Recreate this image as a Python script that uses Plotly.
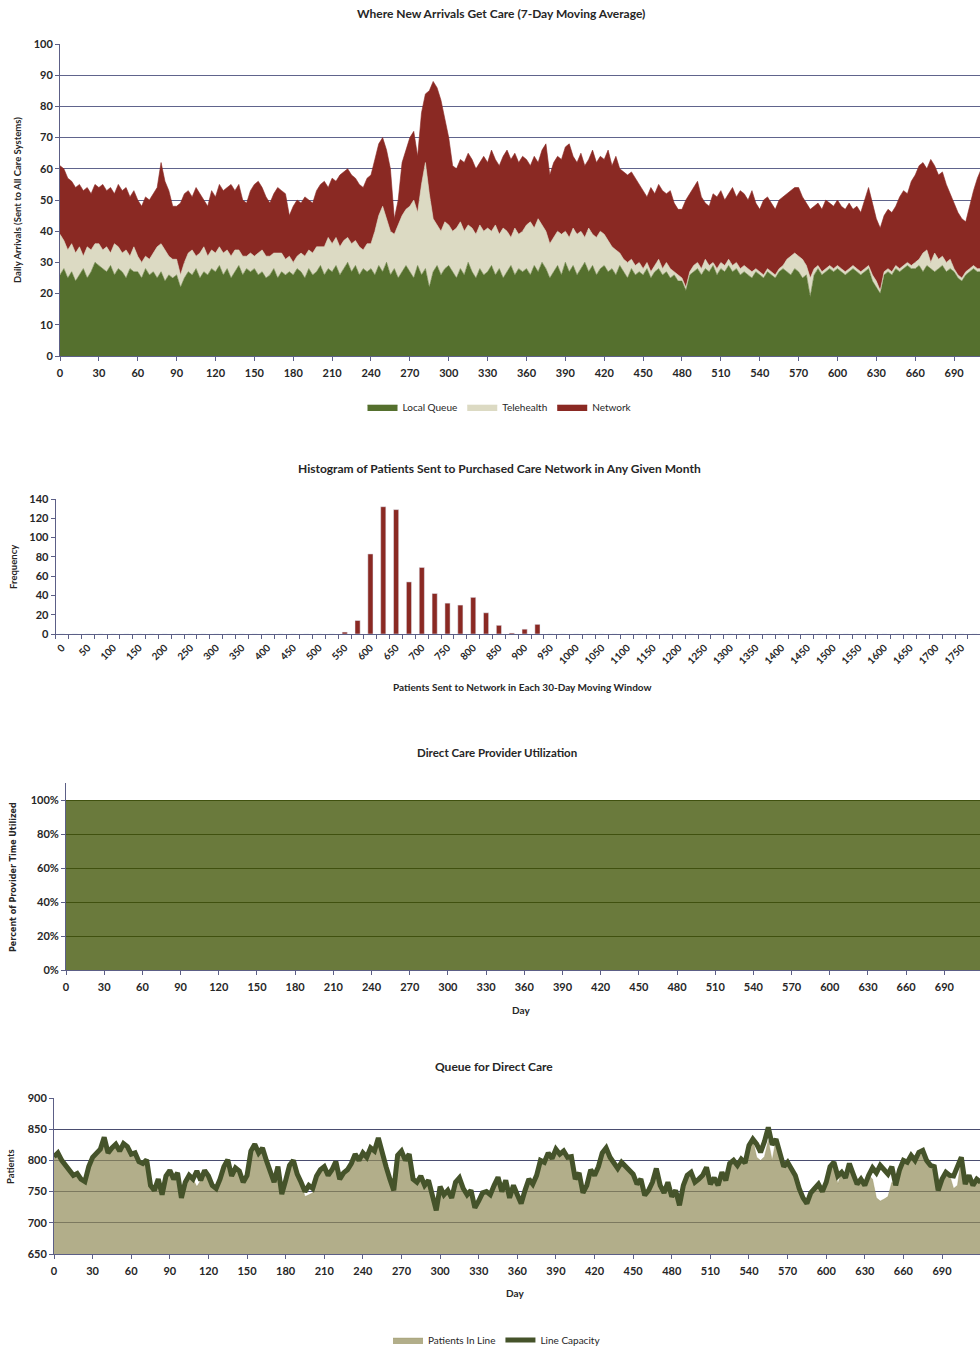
import plotly.graph_objects as go

# ---------------- Where New Arrivals Get Care (7-day moving average, every 3rd day) ----------------
ARRIVAL_DAYS = list(range(0, 712, 3))

LOCAL_QUEUE = [
    26, 28, 25, 27, 24, 26, 28, 25, 27, 30,
    29, 28, 27, 29, 26, 28, 27, 25, 28, 27,
    27, 25, 28, 26, 27, 25, 27, 24, 26, 25,
    26, 22, 25, 27, 26, 28, 25, 27, 26, 28,
    27, 29, 26, 28, 25, 27, 29, 26, 28, 27,
    28, 26, 27, 25, 26, 28, 25, 27, 26, 27,
    26, 28, 27, 25, 28, 26, 27, 29, 26, 28,
    27, 29, 26, 28, 30, 27, 29, 26, 28, 27,
    28, 26, 29, 27, 30, 26, 28, 25, 27, 29,
    27, 25, 29, 26, 28, 22, 27, 29, 26, 28,
    29, 27, 25, 28, 26, 30, 27, 25, 28, 26,
    27, 29, 26, 28, 25, 27, 29, 26, 28, 27,
    28, 26, 29, 27, 30, 28, 25, 27, 29, 26,
    30, 27, 29, 26, 28, 30, 27, 29, 26, 28,
    29, 27, 28, 26, 29, 27, 25, 28, 26, 27,
    26, 28, 25, 27, 28, 26, 27, 25, 26, 24,
    24, 21, 26, 27, 28, 26, 28, 27, 29, 26,
    28, 27, 29, 27, 28, 26, 27, 26, 25, 27,
    26, 25, 27, 26, 25, 27, 28, 27, 26, 28,
    27, 25, 26, 19, 26, 28, 26, 27, 28, 27,
    28, 27, 26, 27, 28, 27, 26, 27, 28, 24,
    22, 20, 26, 27, 26, 28, 27, 28, 29, 28,
    28, 29, 27, 29, 28, 27, 28, 29, 27, 28,
    27, 25, 24, 26, 27, 28, 27, 27,
]

TELEHEALTH = [
    13, 9, 9, 9, 9, 9, 4, 10, 7, 6,
    7, 6, 8, 4, 10, 7, 6, 9, 4, 8,
    5, 5, 4, 5, 6, 10, 9, 10, 6, 6,
    5, 4, 5, 6, 8, 4, 8, 8, 6, 6,
    6, 6, 7, 6, 7, 7, 5, 6, 4, 6,
    4, 7, 7, 7, 6, 5, 8, 6, 5, 5,
    4, 4, 6, 7, 6, 7, 8, 6, 9, 10,
    9, 9, 9, 9, 8, 9, 8, 9, 6, 9,
    8, 14, 16, 21, 14, 14, 11, 17, 18, 18,
    21, 25, 17, 29, 34, 30, 17, 13, 14, 15,
    13, 13, 16, 15, 14, 12, 14, 14, 14, 14,
    14, 11, 16, 11, 16, 13, 9, 15, 11, 13,
    14, 17, 12, 17, 12, 12, 11, 11, 11, 13,
    10, 11, 12, 13, 12, 8, 14, 10, 12, 12,
    10, 10, 7, 8, 4, 4, 5, 3, 3, 3,
    2, 2, 2, 2, 3, 2, 3, 3, 1, 2,
    1, 1, 1, 2, 2, 2, 3, 2, 1, 2,
    2, 2, 2, 2, 2, 2, 2, 2, 2, 1,
    1, 1, 1, 1, 1, 1, 1, 4, 6, 5,
    5, 6, 3, 6, 2, 1, 1, 1, 1, 1,
    1, 1, 1, 1, 1, 1, 1, 1, 1, 2,
    2, 1, 1, 1, 1, 1, 1, 1, 1, 1,
    2, 2, 6, 5, 2, 6, 3, 3, 3, 3,
    1, 1, 1, 1, 1, 1, 1, 1,
]

NETWORK = [
    22, 23, 23, 20, 21, 20, 21, 19, 18, 19,
    18, 21, 18, 21, 16, 20, 20, 20, 19, 18,
    18, 18, 19, 19, 19, 19, 26, 22, 21, 17,
    17, 23, 22, 20, 17, 22, 19, 15, 16, 19,
    18, 20, 20, 20, 23, 19, 21, 18, 17, 20,
    23, 23, 20, 19, 17, 19, 21, 20, 21, 13,
    18, 18, 16, 19, 16, 16, 18, 20, 21, 16,
    21, 18, 23, 22, 22, 22, 20, 20, 20, 21,
    22, 23, 23, 22, 22, 20, 5, 8, 17, 19,
    22, 22, 18, 23, 22, 33, 44, 44, 42, 33,
    28, 21, 19, 20, 22, 23, 22, 21, 20, 24,
    21, 26, 21, 22, 23, 26, 25, 24, 23, 24,
    21, 18, 23, 18, 24, 28, 22, 24, 24, 24,
    27, 30, 23, 23, 25, 23, 22, 27, 24, 24,
    24, 29, 26, 30, 27, 28, 28, 28, 28, 25,
    25, 21, 27, 23, 24, 25, 22, 25, 22, 21,
    22, 28, 25, 25, 26, 23, 18, 19, 22, 23,
    23, 21, 21, 25, 21, 25, 23, 22, 26, 21,
    20, 24, 23, 22, 21, 22, 22, 21, 21, 21,
    22, 20, 20, 22, 20, 20, 20, 22, 20, 20,
    21, 20, 20, 21, 18, 20, 19, 22, 25, 23,
    20, 20, 18, 19, 19, 19, 23, 24, 22, 27,
    28, 30, 29, 26, 33, 28, 27, 27, 25, 21,
    21, 20, 19, 16, 20, 24, 29, 32,
]

# ---------------- Histogram of 30-day network totals ----------------
HIST_BINS = list(range(0, 1800, 25))
HIST_FREQ = [
    0, 0, 0, 0, 0, 0, 0, 0, 0, 0, 0, 0, 0, 0, 0, 0, 0, 0, 0, 0, 0, 0,
    2, 14, 83, 132, 129, 54, 69, 42, 32, 30, 38, 22, 9, 1, 5, 10,
    0, 0, 0, 0, 0, 0, 0, 0, 0, 0, 0, 0, 0, 0, 0, 0, 0, 0, 0, 0,
    0, 0, 0, 0, 0, 0, 0, 0, 0, 0, 0, 0, 0, 0,
]
HIST_TICKS = list(range(0, 1800, 50))

# ---------------- Direct care provider utilization ----------------
UTIL_DAYS = list(range(0, 721, 30))
UTILIZATION = [1.0, 1.0, 0.999, 1.0, 1.0, 0.998, 1.0, 1.0, 0.999, 1.0, 1.0, 1.0, 0.999,
               1.0, 1.0, 0.998, 1.0, 1.0, 0.999, 1.0, 1.0, 1.0, 0.999, 1.0, 1.0]

# ---------------- Queue for direct care (every 3rd day) ----------------
QUEUE_DAYS = list(range(0, 721, 3))

LINE_CAPACITY = [
    806, 812, 800, 793, 784, 776, 779, 770, 766, 790,
    805, 812, 818, 837, 812, 820, 826, 815, 827, 822,
    810, 812, 798, 795, 801, 760, 752, 770, 745, 775,
    784, 770, 780, 740, 765, 776, 770, 783, 768, 784,
    775, 760, 755, 770, 790, 801, 775, 788, 783, 765,
    776, 815, 826, 812, 820, 800, 780, 765, 790, 746,
    768, 792, 800, 778, 765, 750, 760, 755, 775, 785,
    790, 776, 785, 798, 770, 780, 785, 795, 810, 800,
    812, 805, 820, 815, 836, 810, 790, 770, 752, 808,
    815, 800, 810, 770, 765, 775, 760, 768, 740, 720,
    758, 745, 752, 740, 765, 772, 755, 745, 752, 724,
    735, 748, 750, 745, 760, 773, 750, 768, 740, 760,
    745, 731, 752, 770, 762, 776, 800, 797, 812, 803,
    818, 810, 815, 805, 806, 770, 780, 748, 760, 785,
    776, 790, 812, 820, 805, 795, 787, 797, 790, 785,
    778, 762, 770, 744, 752, 765, 787, 760, 748, 765,
    742, 752, 728, 760, 776, 781, 765, 770, 776, 789,
    762, 772, 760, 781, 768, 795, 800, 792, 802, 796,
    824, 834, 826, 813, 830, 853, 825, 834, 815, 790,
    797, 785, 776, 755, 740, 731, 748, 755, 762, 750,
    765, 790, 797, 775, 781, 772, 795, 778, 762, 770,
    760, 776, 788, 780, 792, 785, 778, 790, 760, 785,
    800, 797, 808, 800, 813, 816, 800, 792, 790, 752,
    770, 781, 776, 775, 790, 805, 762, 776, 760, 770, 765,
]

PATIENTS_IN_LINE = [
    806, 812, 800, 793, 784, 776, 779, 770, 766, 790,
    805, 812, 818, 837, 812, 820, 826, 815, 827, 822,
    810, 812, 798, 795, 801, 760, 752, 770, 745, 775,
    784, 770, 780, 740, 765, 776, 770, 758, 768, 784,
    775, 760, 755, 770, 790, 801, 775, 788, 783, 765,
    776, 815, 826, 812, 820, 800, 780, 765, 790, 746,
    768, 792, 800, 778, 765, 742, 745, 748, 775, 785,
    790, 776, 785, 798, 770, 780, 785, 795, 810, 800,
    812, 805, 820, 815, 836, 810, 790, 770, 752, 808,
    815, 800, 810, 770, 765, 775, 760, 768, 740, 720,
    758, 745, 752, 740, 765, 772, 755, 745, 752, 724,
    735, 748, 750, 745, 760, 773, 750, 768, 740, 760,
    745, 731, 752, 770, 762, 776, 800, 797, 812, 803,
    818, 810, 815, 805, 806, 770, 780, 748, 760, 785,
    776, 790, 812, 820, 805, 795, 787, 797, 790, 785,
    778, 762, 770, 744, 752, 765, 787, 760, 748, 765,
    742, 752, 728, 760, 776, 781, 765, 770, 776, 789,
    762, 772, 760, 781, 768, 795, 800, 792, 802, 796,
    824, 834, 805, 800, 806, 832, 800, 834, 815, 790,
    797, 785, 776, 755, 740, 731, 748, 755, 762, 750,
    765, 790, 797, 762, 781, 772, 795, 778, 762, 770,
    760, 776, 770, 740, 735, 738, 742, 765, 760, 785,
    800, 797, 808, 800, 813, 816, 800, 792, 790, 752,
    770, 781, 776, 755, 760, 805, 762, 776, 760, 770, 765,
]

# ---------------- styling ----------------
W, H = 980, 1350
FONT = "Lato"
TXT = "#262626"
AXIS = "#5c5f86"
GREEN = "#55702e"
LIGHT = "#dcdac3"
RED = "#8a2923"


def px_x(p):
    return p / W


def px_y(p):
    return 1 - p / H


fig = go.Figure()

# chart 1: stacked areas
for name, vals, col in [("Local Queue", LOCAL_QUEUE, GREEN),
                        ("Telehealth", TELEHEALTH, LIGHT),
                        ("Network", NETWORK, RED)]:
    fig.add_trace(go.Scatter(x=ARRIVAL_DAYS, y=vals, name=name, mode="lines",
                             stackgroup="arrivals", line=dict(width=0.6, color=col),
                             fillcolor=col, xaxis="x", yaxis="y", legend="legend"))

# chart 2: histogram bars
fig.add_trace(go.Bar(x=HIST_BINS, y=HIST_FREQ, marker_color=RED, showlegend=False,
                     xaxis="x2", yaxis="y2"))

# chart 3: utilization area
fig.add_trace(go.Scatter(x=UTIL_DAYS, y=UTILIZATION, mode="lines", fill="tozeroy",
                         line=dict(width=0, color="rgba(69,89,11,0.8)"),
                         fillcolor="rgba(69,89,11,0.8)", showlegend=False,
                         xaxis="x3", yaxis="y3"))

# chart 4: queue area + capacity line
fig.add_trace(go.Scatter(x=QUEUE_DAYS, y=PATIENTS_IN_LINE, name="Patients In Line",
                         mode="lines", fill="tozeroy",
                         line=dict(width=0.5, color="rgba(146,139,89,0.7)"),
                         fillcolor="rgba(146,139,89,0.7)",
                         xaxis="x4", yaxis="y4", legend="legend2"))
fig.add_trace(go.Scatter(x=QUEUE_DAYS, y=LINE_CAPACITY, name="Line Capacity",
                         mode="lines", line=dict(width=5, color="#45532a"),
                         xaxis="x4", yaxis="y4", legend="legend2"))

tickfont = dict(family=FONT, size=11, color=TXT, weight="bold")


def day_axis(dom_left, rng, anchor):
    return dict(domain=[px_x(dom_left), 1], range=rng, anchor=anchor,
                tickmode="linear", tick0=0, dtick=30, ticks="outside", ticklen=4,
                tickcolor=AXIS, showline=True, linecolor=AXIS, linewidth=1,
                showgrid=False, zeroline=False, tickfont=tickfont,
                ticklabelstandoff=3)


fig.update_layout(
    width=W, height=H,
    margin=dict(l=0, r=0, t=0, b=0, autoexpand=False),
    paper_bgcolor="white", plot_bgcolor="white",
    font=dict(family=FONT, color=TXT),
    bargap=0.6,
    xaxis=day_axis(60, [0, 710], "y"),
    yaxis=dict(domain=[px_y(356), px_y(44)], range=[0, 100], dtick=10, anchor="x",
               showgrid=True, gridcolor="#60648c", gridwidth=1, showline=True,
               linecolor=AXIS, ticks="outside", ticklen=4, tickcolor=AXIS,
               zeroline=False, tickfont=tickfont),
    xaxis2=dict(domain=[px_x(55.6), 1], range=[-12.5, 1786], anchor="y2",
                tickmode="array", tickvals=HIST_TICKS, ticktext=[str(v) for v in HIST_TICKS],
                tickangle=-45, ticks="", showline=True, linecolor=AXIS,
                minor=dict(ticks="outside", tick0=12.5, dtick=25, ticklen=4,
                           tickcolor=AXIS, showgrid=False),
                showgrid=False, zeroline=False, ticklabelstandoff=3,
                tickfont=dict(family=FONT, size=10, color=TXT, weight="bold")),
    yaxis2=dict(domain=[px_y(634), px_y(499)], range=[0, 140], dtick=20, anchor="x2",
                showgrid=False, showline=True, linecolor=AXIS, ticks="outside",
                ticklen=4, tickcolor=AXIS, zeroline=False, tickfont=tickfont),
    xaxis3=day_axis(66, [0, 718], "y3"),
    yaxis3=dict(domain=[px_y(970), px_y(783)], range=[0, 1.1], anchor="x3",
                tickmode="array", tickvals=[0, 0.2, 0.4, 0.6, 0.8, 1.0],
                tickformat=".0%", showgrid=True, gridcolor="#2e3220", gridwidth=1.2,
                showline=True, linecolor=AXIS, ticks="outside", ticklen=4,
                tickcolor=AXIS, zeroline=False, tickfont=tickfont),
    xaxis4=day_axis(54, [0, 719.5], "y4"),
    yaxis4=dict(domain=[px_y(1254), px_y(1098)], range=[650, 900], dtick=50, anchor="x4",
                showgrid=True, gridcolor="#4a4d70", gridwidth=1.2, showline=True,
                linecolor=AXIS, ticks="outside", ticklen=4, tickcolor=AXIS,
                zeroline=False, tickfont=tickfont),
    legend=dict(orientation="h", x=px_x(500), xanchor="center", y=px_y(407),
                yanchor="middle", traceorder="normal", itemwidth=30,
                font=dict(family=FONT, size=10, color=TXT), bgcolor="rgba(0,0,0,0)"),
    legend2=dict(orientation="h", x=px_x(497), xanchor="center", y=px_y(1340),
                 yanchor="middle", traceorder="normal",
                 font=dict(family=FONT, size=10, color=TXT), bgcolor="rgba(0,0,0,0)"),
)

annotations = [
    # chart titles
    dict(text="<b>Where New Arrivals Get Care (7-Day Moving Average)</b>", x=px_x(501), y=px_y(14), size=12),
    dict(text="<b>Histogram of Patients Sent to Purchased Care Network in Any Given Month</b>", x=px_x(499), y=px_y(468), size=12),
    dict(text="<b>Direct Care Provider Utilization</b>", x=px_x(497), y=px_y(752), size=11.5),
    dict(text="<b>Queue for Direct Care</b>", x=px_x(494), y=px_y(1066), size=12),
    # x-axis titles
    dict(text="<b>Patients Sent to Network in Each 30-Day Moving Window</b>", x=px_x(522), y=px_y(687), size=10),
    dict(text="<b>Day</b>", x=px_x(521), y=px_y(1010), size=10),
    dict(text="<b>Day</b>", x=px_x(515), y=px_y(1293), size=10),
]
for a in annotations:
    fig.add_annotation(text=a["text"], x=a["x"], y=a["y"], xref="paper", yref="paper",
                       showarrow=False, xanchor="center", yanchor="middle",
                       font=dict(family=FONT, size=a["size"], color=TXT))

# rotated y-axis titles
for text, xp, yp, fam, size in [
    ("<b>Daily Arrivals (Sent to All Care Systems)</b>", 17, 200, FONT, 9.5),
    ("<b>Frequency</b>", 14, 567, FONT, 9.5),
    ("<b>Percent of Provider Time Utilized</b>", 13, 877, "DejaVu Sans", 8),
    ("<b>Patients</b>", 10, 1167, FONT, 9.5),
]:
    fig.add_annotation(text=text, x=px_x(xp), y=px_y(yp), xref="paper", yref="paper",
                       showarrow=False, textangle=-90, xanchor="center", yanchor="middle",
                       font=dict(family=fam, size=size, color=TXT))

fig.write_html("out.html")
